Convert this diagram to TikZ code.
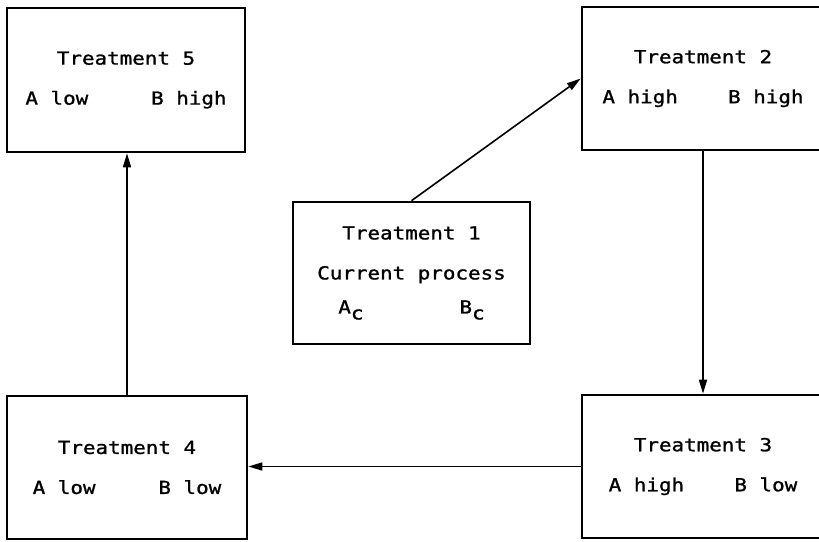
\documentclass[tikz,border=0pt]{standalone}
\usepackage{fontspec}
\usetikzlibrary{arrows.meta}
\newfontfamily\plotfont[FakeStretch=1.16,FakeBold=1.2]{DejaVu Sans Mono}
\newcommand{\lowsub}[1]{\raisebox{-6pt}{#1}}
\tikzset{
  treatbox/.style={draw, line width=2.6pt, rectangle, align=center,
    inner sep=0pt, font=\plotfont\fontsize{18}{40}\selectfont},
  flow/.style={line width=1.6pt, -{Triangle[length=14pt,width=8pt]}}
}
\begin{document}
\begin{tikzpicture}[x=1pt,y=-1pt]
  \useasboundingbox (0,0) rectangle (819,541);
  \clip (0,0) rectangle (819,541);
  \fill[white] (0,0) rectangle (819,541);

  % treatment boxes
  \node[treatbox, minimum width=238pt, minimum height=144pt] (t5) at (126,80)
    {Treatment 5\\A~low~~~~~B~high};
  \node[treatbox, minimum width=242pt, minimum height=143pt] (t2) at (703,78.5)
    {Treatment 2\\A~high~~~~B~high};
  \node[treatbox, minimum width=237pt, minimum height=142pt] (t1) at (411.5,273)
    {Treatment 1\\Current~process\\[-6pt]A\lowsub{c}\hspace{96pt}B\lowsub{c}};
  \node[treatbox, minimum width=240pt, minimum height=143pt] (t4) at (127,467.5)
    {Treatment 4\\A~low~~~~~B~low};
  \node[treatbox, minimum width=242pt, minimum height=143pt] (t3) at (703,466.5)
    {Treatment 3\\A~high~~~~B~low};

  % sequence of treatments
  \draw[flow] (t1.north) -- (t2.west);
  \draw[flow] (t2.south) -- (t3.north);
  \draw[flow] (t3.west) -- (t4.east |- t3.west);
  \draw[flow] (t4.north) -- (t4.north |- t5.south);
\end{tikzpicture}
\end{document}
